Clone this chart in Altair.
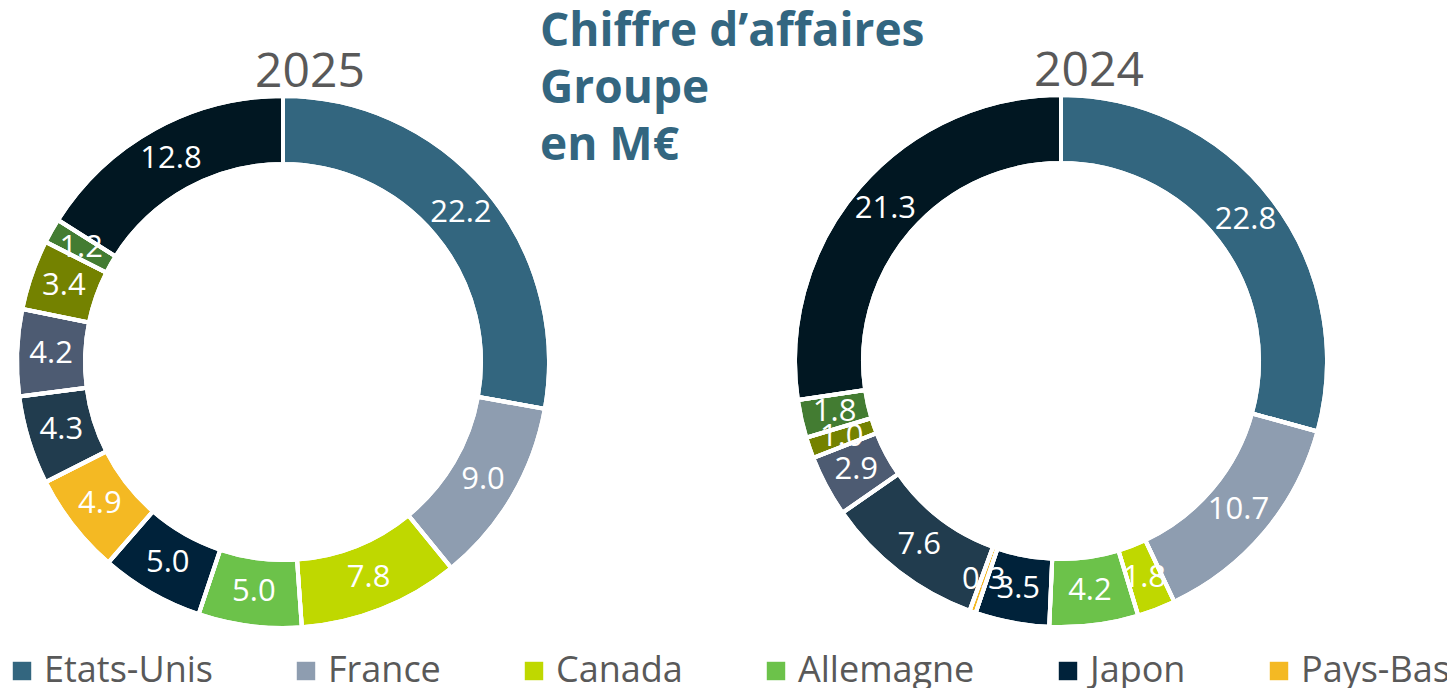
import altair as alt
import pandas as pd

categories = ["Etats-Unis", "France", "Canada", "Allemagne", "Japon", "Pays-Bas",
              "Royaume-Uni", "Italie", "Espagne", "Suisse", "Autres"]
values_2025 = [22.2, 9.0, 7.8, 5.0, 5.0, 4.9, 4.3, 4.2, 3.4, 1.2, 12.8]
values_2024 = [22.8, 10.7, 1.8, 4.2, 3.5, 0.3, 7.6, 2.9, 1.0, 1.8, 21.3]
colors = ["#33667F", "#8E9DB0", "#BFD800", "#6CC24A", "#00223A", "#F4B923",
          "#213C4E", "#4D5B72", "#748200", "#437C32", "#011722"]
legend_shown = categories[:6]
title_lines = ["Chiffre d\u2019affaires", "Groupe", "en M\u20ac"]
years = ["2025", "2024"]

rows = []
for year, vals in zip(years, [values_2025, values_2024]):
    for i, (c, v) in enumerate(zip(categories, vals)):
        rows.append({"year": year, "pays": c, "value": v, "idx": i, "label": f"{v:.1f}"})
df = pd.DataFrame(rows)

FONT = "Open Sans"
color_enc = alt.Color(
    "pays:N",
    scale=alt.Scale(domain=categories, range=colors),
    sort=categories,
    legend=alt.Legend(
        values=legend_shown, title=None, orient="none", direction="horizontal",
        legendX=-4, legendY=645, padding=0, symbolType="square", symbolSize=340,
        symbolStrokeWidth=0, labelFontSize=36, labelFont=FONT, labelColor="#595959",
        labelOffset=4, columnPadding=75, labelLimit=400, symbolOpacity=1,
    ),
)

centers = {"2025": (275, 354), "2024": (1053, 353)}
layers = []
for year in years:
    cx, cy = centers[year]
    base = alt.Chart(df).transform_filter(alt.datum.year == year)
    theta = alt.Theta("value:Q", stack="normalize")
    order = alt.Order("idx:Q", sort="ascending")
    arc = base.mark_arc(
        innerRadius=198, outerRadius=266, stroke="white", strokeWidth=4, x=cx, y=cy
    ).encode(theta=theta, color=color_enc, order=order)
    txt = base.mark_text(
        radius=232, x=cx, y=cy, fontSize=31, font=FONT, color="white"
    ).encode(theta=theta, text="label:N", order=order)
    sep = base.mark_arc(
        innerRadius=198, outerRadius=266, stroke="white", strokeWidth=4,
        fillOpacity=0, x=cx, y=cy
    ).encode(theta=theta, order=order, detail="pays:N")
    layers += [arc, txt, sep]

one = pd.DataFrame({"k": [0]})
year_txt = []
year_pos = {"2025": (302, 79), "2024": (1081, 78)}
for year in years:
    x, y = year_pos[year]
    year_txt.append(
        alt.Chart(one).mark_text(
            text=year, x=x, y=y, fontSize=48, font=FONT, color="#595959",
            align="center", baseline="alphabetic",
        ).encode(opacity=alt.value(1))
    )

title = alt.Chart(one).mark_text(
    text=title_lines, x=532, y=38, fontSize=46, font=FONT, fontWeight="bold",
    color="#336680", align="left", baseline="alphabetic", lineHeight=57,
).encode(opacity=alt.value(1))

chart = alt.layer(*layers, *year_txt, title).resolve_scale(
    theta="independent"
).properties(
    width=1439, height=680, padding=0,
    autosize=alt.AutoSizeParams(type="none"),
).configure_view(stroke=None)

chart.save("out.html", embed_options={"renderer": "svg", "actions": False})
